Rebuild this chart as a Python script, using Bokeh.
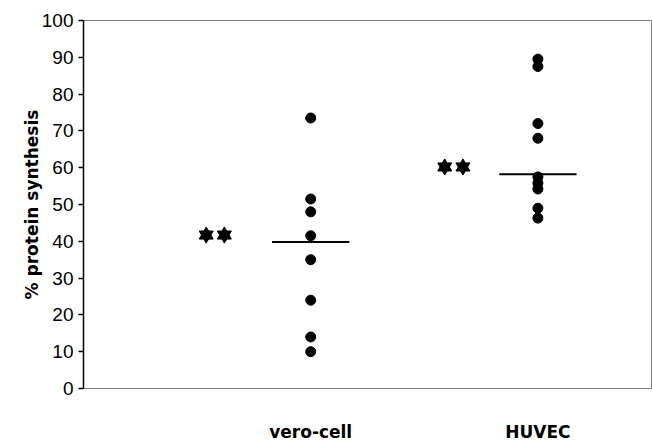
from bokeh.plotting import figure
from bokeh.models import Range1d, FixedTicker
from bokeh.embed import file_html
from bokeh.resources import INLINE

# ---- data ----
categories = ["vero-cell", "HUVEC"]
cat_pos = [1, 2]
vero_values = [73.5, 51.5, 48, 41.5, 35, 24, 14, 10]
huvec_values = [89.5, 87.5, 72, 68, 57.5, 55.8, 54.2, 49, 46.3]
medians = [39.8, 58.2]
star_levels = [41.7, 60.2]
y_ticks = [0, 10, 20, 30, 40, 50, 60, 70, 80, 90, 100]

p = figure(width=652, height=444, output_backend="svg", toolbar_location=None,
           x_range=Range1d(0, 2.5), y_range=Range1d(0, 100),
           min_border_left=83, min_border_right=1, min_border_top=20,
           min_border_bottom=55)

p.xgrid.visible = False
p.ygrid.visible = False
p.outline_line_color = "#808080"
p.outline_line_width = 1
p.background_fill_color = "white"
p.border_fill_color = "white"

# y axis
ya = p.yaxis[0]
ya.ticker = FixedTicker(ticks=y_ticks)
ya.axis_line_color = "black"
ya.axis_line_width = 1.5
ya.major_tick_line_color = "black"
ya.major_tick_line_width = 1.5
ya.major_tick_out = 5
ya.major_tick_in = 0
ya.minor_tick_line_color = None
ya.major_label_standoff = 5
ya.major_label_text_font = "Liberation Sans"
ya.major_label_text_font_size = "19px"
ya.major_label_text_color = "black"
ya.axis_label = "% protein synthesis"
ya.axis_label_text_font = "DejaVu Sans"
ya.axis_label_text_font_style = "bold"
ya.axis_label_text_font_size = "17px"
ya.axis_label_text_color = "black"
ya.axis_label_standoff = -3

# x axis: category names only
xa = p.xaxis[0]
xa.ticker = FixedTicker(ticks=cat_pos)
xa.major_label_overrides = {c: n for c, n in zip(cat_pos, categories)}
xa.axis_line_color = None
xa.major_tick_line_color = None
xa.minor_tick_line_color = None
xa.major_tick_out = 0
xa.major_tick_in = 0
xa.major_label_standoff = 33
xa.major_label_text_font = "DejaVu Sans"
xa.major_label_text_font_style = "bold"
xa.major_label_text_font_size = "17px"
xa.major_label_text_color = "black"

# points
p.scatter([cat_pos[0]] * len(vero_values), vero_values, size=10, marker="circle",
          fill_color="black", line_color="black")
p.scatter([cat_pos[1]] * len(huvec_values), huvec_values, size=10, marker="circle",
          fill_color="black", line_color="black")

# mean lines
half = 0.17
p.segment(x0=[c - half for c in cat_pos], x1=[c + half for c in cat_pos],
          y0=medians, y1=medians, line_color="black", line_width=2)

# significance stars (two per group, left of the group)
star_offsets = [(-0.46, -0.38), (-0.41, -0.33)]
star_x = []
star_y = []
for c, lvl, offs in zip(cat_pos, star_levels, star_offsets):
    for off in offs:
        star_x.append(c + off)
        star_y.append(lvl)
p.scatter(star_x, star_y, marker="triangle", size=14, fill_color="black", line_color="black")
p.scatter(star_x, star_y, marker="inverted_triangle", size=14, fill_color="black", line_color="black")

open("out.html", "w").write(file_html(p, INLINE))
